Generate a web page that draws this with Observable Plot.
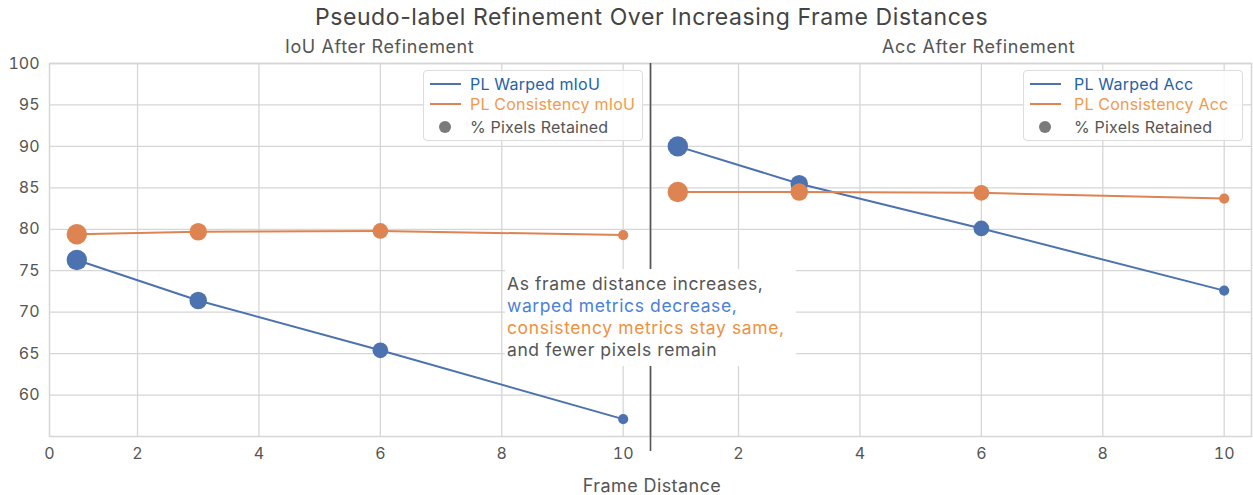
<!DOCTYPE html>
<html><head><meta charset="utf-8">
<script src="https://cdn.jsdelivr.net/npm/d3@7"></script>
<script src="https://cdn.jsdelivr.net/npm/@observablehq/plot@0.6"></script>
<style>
body{margin:0;background:#fff;font-family:Inter,"Noto Sans",sans-serif;}
#wrap{position:relative;width:1253px;height:495px;overflow:hidden;}
.abs{position:absolute;white-space:nowrap;}
.title{font-size:23px;letter-spacing:0.6px;color:#444;left:0;width:1303px;text-align:center;top:3px;}
.sub{font-size:18px;letter-spacing:0.6px;color:#555;top:36px;}
.xlabel{font-size:18px;letter-spacing:0.4px;color:#555;top:475px;left:552px;width:200px;text-align:center;}
.legend{border:1px solid #dcdcdc;border-radius:4px;background:rgba(255,255,255,0.85);width:218px;height:69px;top:70px;}
.legend .row{position:absolute;font-size:16px;letter-spacing:0.2px;line-height:20px;}
.legend .ln{position:absolute;height:2px;width:31px;}
.legend .dt{position:absolute;width:12px;height:12px;border-radius:6px;background:#7a7a7a;}
.note{background:#fff;left:505px;top:269px;width:291px;height:97px;font-size:17.5px;letter-spacing:0.6px;line-height:21.9px;color:#555;padding-top:4px;box-sizing:border-box;}
.note div{padding-left:2px;}
</style></head><body><div id="wrap"></div>
<script>
// ---- data ----
const frameDistance = [1, 3, 6, 10];
const warpedMIoU = [76.3, 71.4, 65.4, 57.1];
const consistencyMIoU = [79.4, 79.7, 79.8, 79.3];
const warpedAcc = [90.0, 85.5, 80.1, 72.6];
const consistencyAcc = [84.5, 84.5, 84.4, 83.7];
const pixelsRetained = [100, 74, 59, 25];
const xDomain = [0.55, 10.45];
const yDomain = [55, 100];
const xTicks = [0.55, 2, 4, 6, 8, 10];
const xTickLabels = ["0", "2", "4", "6", "8", "10"];
const xGrid = [2, 4, 6, 8, 10];
const yTicks = [60, 65, 70, 75, 80, 85, 90, 95, 100];
const panelTitles = ["IoU After Refinement", "Acc After Refinement"];
const legendIoU = ["PL Warped mIoU", "PL Consistency mIoU", "% Pixels Retained"];
const legendAcc = ["PL Warped Acc", "PL Consistency Acc", "% Pixels Retained"];
const noteLines = ["As frame distance increases,", "warped metrics decrease,", "consistency metrics stay same,", "and fewer pixels remain"];
const chartTitle = "Pseudo-label Refinement Over Increasing Frame Distances";
const xLabel = "Frame Distance";

const BLUE = "#4c72b0", ORANGE = "#dd8452", GRID = "#d6d6d6";

function rows(vals) {
  return frameDistance.map((x, i) => ({x, y: vals[i], p: pixelsRetained[i]}));
}

function panel({warped, consistency, width, marginLeft, marginRight, showY, ticks, labels, divider}) {
  const w = rows(warped), c = rows(consistency);
  return Plot.plot({
    width, height: 495, marginTop: 63, marginBottom: 59, marginLeft, marginRight,
    x: {domain: xDomain},
    y: {domain: yDomain},
    r: {domain: [0, 100], range: [0, 10.2]},
    style: {fontFamily: 'Inter,"Noto Sans",sans-serif', fontSize: "16px", color: "#555", background: "transparent", overflow: "visible"},
    marks: [
      Plot.ruleX(xGrid, {stroke: GRID, strokeWidth: 1.3}),
      Plot.ruleY(yTicks, {stroke: GRID, strokeWidth: 1.3}),
      Plot.frame({stroke: GRID, strokeWidth: 1.5}),
      Plot.line(w, {x: "x", y: "y", stroke: BLUE, strokeWidth: 2}),
      Plot.dot(w, {x: "x", y: "y", r: "p", fill: BLUE}),
      Plot.line(c, {x: "x", y: "y", stroke: ORANGE, strokeWidth: 2}),
      Plot.dot(c, {x: "x", y: "y", r: "p", fill: ORANGE}),
      Plot.axisX({ticks, tickFormat: (d) => labels[ticks.indexOf(d)], tickSize: 0, tickPadding: 11, label: null}),
      showY ? Plot.axisY({ticks: yTicks, tickSize: 0, tickPadding: 10, label: null}) : Plot.axisY({ticks: [], label: null}),
      divider ? Plot.ruleX([xDomain[1]], {stroke: "#555", strokeWidth: 1.6, insetBottom: -15}) : null
    ]
  });
}

const wrap = document.getElementById("wrap");

const right = panel({warped: warpedAcc, consistency: consistencyAcc, width: 603, marginLeft: 0, marginRight: 2,
  showY: false, ticks: xTicks.slice(1), labels: xTickLabels.slice(1), divider: false});
right.style.position = "absolute"; right.style.left = "650px"; right.style.top = "0px";
wrap.appendChild(right);

const left = panel({warped: warpedMIoU, consistency: consistencyMIoU, width: 653, marginLeft: 49, marginRight: 3,
  showY: true, ticks: xTicks, labels: xTickLabels, divider: true});
left.style.position = "absolute"; left.style.left = "0px"; left.style.top = "0px";
wrap.appendChild(left);

function addDiv(cls, text, style) {
  const d = document.createElement("div");
  d.className = "abs " + cls;
  if (text != null) d.textContent = text;
  Object.assign(d.style, style || {});
  wrap.appendChild(d);
  return d;
}

addDiv("title", chartTitle);
addDiv("sub", panelTitles[0], {left: "285px"});
addDiv("sub", panelTitles[1], {left: "882px"});
addDiv("xlabel", xLabel);

function legend(x, labels, textLeft) {
  const box = addDiv("legend", null, {left: x + "px"});
  const cols = ["#2462a6", "#f09a4e", "#555"];
  const ys = [12.7, 33, 56];
  [0, 1].forEach(i => {
    const l = document.createElement("div"); l.className = "ln";
    l.style.left = "6px"; l.style.top = (ys[i] - 1) + "px"; l.style.background = i ? ORANGE : BLUE;
    box.appendChild(l);
  });
  const dot = document.createElement("div"); dot.className = "dt";
  dot.style.left = "15px"; dot.style.top = (ys[2] - 6) + "px"; box.appendChild(dot);
  labels.forEach((t, i) => {
    const r = document.createElement("div"); r.className = "row";
    r.textContent = t; r.style.color = cols[i]; r.style.left = textLeft + "px"; r.style.top = (ys[i] - 10) + "px";
    box.appendChild(r);
  });
}
legend(423, legendIoU, 46);
legend(1023, legendAcc, 50);

const note = addDiv("note", null);
const noteColors = ["#555", "#4a80d8", "#ee913f", "#555"];
noteLines.forEach((t, i) => {
  const d = document.createElement("div"); d.textContent = t; d.style.color = noteColors[i];
  note.appendChild(d);
});
</script>
</body></html>
